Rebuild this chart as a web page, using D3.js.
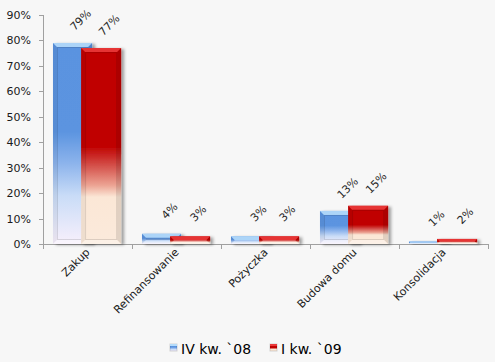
<!DOCTYPE html>
<html>
<head>
<meta charset="utf-8">
<script src="https://cdn.jsdelivr.net/npm/d3@7"></script>
<style>
  body { margin: 0; background: #f7f7f7; }
  svg { display: block; }
  text { font-family: "DejaVu Sans", Verdana, sans-serif; fill: #1a1a1a; }
</style>
</head>
<body>
<div id="chart"></div>
<script>
// chart data
const categories = ["Zakup", "Refinansowanie", "Pożyczka", "Budowa domu", "Konsolidacja"];
const seriesNames = ["IV kw. `08", "I kw. `09"];
const q4_08 = [79, 4, 3, 13, 1];
const q1_09 = [77, 3, 3, 15, 2];
const yTicks = [0, 10, 20, 30, 40, 50, 60, 70, 80, 90];

const width = 495, height = 362;
const plot = { left: 43, right: 488, top: 15, bottom: 244 };

const svg = d3.select("#chart").append("svg")
  .attr("width", width)
  .attr("height", height);

svg.append("rect").attr("width", width).attr("height", height).attr("fill", "#f7f7f7");

const defs = svg.append("defs");

// per-bar gradients
const blueGrad = defs.append("linearGradient").attr("id", "blueGrad")
  .attr("x1", 0).attr("y1", 0).attr("x2", 0).attr("y2", 1);
[[0, "#5a93e0"], [0.44, "#5b94e0"], [0.6, "#8db4ec"], [0.76, "#c9dcf7"], [1, "#f8f0fc"]]
  .forEach(s => blueGrad.append("stop").attr("offset", s[0]).attr("stop-color", s[1]));

const redGrad = defs.append("linearGradient").attr("id", "redGrad")
  .attr("x1", 0).attr("y1", 0).attr("x2", 0).attr("y2", 1);
[[0, "#c00000"], [0.5, "#c00000"], [0.6, "#d4504a"], [0.7, "#eca393"], [0.76, "#fbe7d6"], [1, "#fbeadb"]]
  .forEach(s => redGrad.append("stop").attr("offset", s[0]).attr("stop-color", s[1]));

const shadow = defs.append("filter").attr("id", "shadow")
  .attr("x", "-20%").attr("y", "-20%").attr("width", "150%").attr("height", "150%");
shadow.append("feDropShadow").attr("dx", 3).attr("dy", 1)
  .attr("stdDeviation", 1.5).attr("flood-color", "#000").attr("flood-opacity", 0.35);

// scales
const x = d3.scaleBand().domain(categories).range([plot.left, plot.right]).padding(0);
const y = d3.scaleLinear().domain([0, 90]).range([plot.bottom, plot.top]);
const bw = x.bandwidth();

const series = [
  { name: seriesNames[0], values: q4_08, fill: "url(#blueGrad)", top: "#b5dcfb", offset: 0.112, w: 0.44 },
  { name: seriesNames[1], values: q1_09, fill: "url(#redGrad)", top: "#ea3a3a", offset: 0.428, w: 0.45 }
];

// axes
const axisColor = "#a0a0a0";
const g = svg.append("g");

g.append("line")
  .attr("x1", plot.left + 0.5).attr("x2", plot.left + 0.5)
  .attr("y1", y(90)).attr("y2", plot.bottom)
  .attr("stroke", axisColor);

g.selectAll(".ytick").data(yTicks).enter().append("line")
  .attr("x1", plot.left - 4).attr("x2", plot.left)
  .attr("y1", d => Math.round(y(d)) + 0.5).attr("y2", d => Math.round(y(d)) + 0.5)
  .attr("stroke", axisColor);

g.selectAll(".ylabel").data(yTicks).enter().append("text")
  .attr("x", plot.left - 12)
  .attr("y", d => y(d) + 4)
  .attr("text-anchor", "end")
  .style("font-size", "11px")
  .text(d => d + "%");

g.append("line")
  .attr("x1", plot.left).attr("x2", plot.right)
  .attr("y1", plot.bottom + 0.5).attr("y2", plot.bottom + 0.5)
  .attr("stroke", axisColor);

const bounds = categories.map(c => x(c)).concat([plot.right]);
g.selectAll(".xtick").data(bounds).enter().append("line")
  .attr("x1", d => Math.round(d) + 0.5).attr("x2", d => Math.round(d) + 0.5)
  .attr("y1", plot.bottom).attr("y2", plot.bottom + 5)
  .attr("stroke", axisColor);

g.selectAll(".xlabel").data(categories).enter().append("text")
  .attr("transform", d => `translate(${x(d) + bw / 2 + 3},${plot.bottom + 9}) rotate(-45)`)
  .attr("text-anchor", "end")
  .style("font-size", "11px")
  .text(d => d);

// bars with bevel
function drawBar(parent, bx, by, w, h, s) {
  const b = Math.min(4, h / 2);
  const bar = parent.append("g");
  bar.append("rect")
    .attr("x", bx).attr("y", by).attr("width", w).attr("height", h)
    .attr("fill", s.fill)
    .attr("filter", "url(#shadow)");
  // top face
  bar.append("path")
    .attr("d", `M${bx},${by}L${bx + w},${by}L${bx + w - b},${by + b}L${bx + b},${by + b}Z`)
    .attr("fill", s.top).attr("opacity", 0.9);
  // left face
  bar.append("path")
    .attr("d", `M${bx},${by}L${bx + b},${by + b}L${bx + b},${by + h - b}L${bx},${by + h}Z`)
    .attr("fill", "#000").attr("opacity", 0.05);
  // right face
  bar.append("path")
    .attr("d", `M${bx + w},${by}L${bx + w},${by + h}L${bx + w - b},${by + h - b}L${bx + w - b},${by + b}Z`)
    .attr("fill", "#000").attr("opacity", 0.1);
  // bottom face
  bar.append("path")
    .attr("d", `M${bx},${by + h}L${bx + b},${by + h - b}L${bx + w - b},${by + h - b}L${bx + w},${by + h}Z`)
    .attr("fill", "#fff").attr("opacity", 0.35);
  if (h > 2 * b + 1) {
    bar.append("rect")
      .attr("x", bx + b + 0.5).attr("y", by + b + 0.5)
      .attr("width", w - 2 * b - 1).attr("height", h - 2 * b - 1)
      .attr("fill", "none").attr("stroke", "#000").attr("stroke-opacity", 0.12);
  }
}

const barsG = svg.append("g");
categories.forEach((c, i) => {
  series.forEach(s => {
    const v = s.values[i];
    const bx = x(c) + bw * s.offset;
    const w = bw * s.w;
    const by = y(v);
    drawBar(barsG, bx, by, w, plot.bottom - by, s);
  });
});

// value labels
const labelsG = svg.append("g");
categories.forEach((c, i) => {
  series.forEach(s => {
    const v = s.values[i];
    const cx = x(c) + bw * s.offset + bw * s.w / 2;
    labelsG.append("text")
      .attr("transform", `translate(${cx + 8},${y(v) - 23}) rotate(-45)`)
      .attr("text-anchor", "middle")
      .attr("dy", "0.35em")
      .style("font-size", "11px")
      .style("fill", "#262626")
      .text(v + "%");
  });
});

// legend
const legend = svg.append("g").attr("transform", "translate(170,343)");
const legendItems = [
  { s: series[0], dx: 0 },
  { s: series[1], dx: 100 }
];
legendItems.forEach(it => {
  const lg = legend.append("g").attr("transform", `translate(${it.dx},0)`);
  lg.append("rect").attr("x", 0).attr("y", 1).attr("width", 7).attr("height", 7)
    .attr("fill", it.s.fill).attr("stroke", "#000").attr("stroke-opacity", 0.15);
  lg.append("rect").attr("x", 0).attr("y", 1).attr("width", 7).attr("height", 2)
    .attr("fill", it.s.top);
  lg.append("text").attr("x", 11).attr("y", 11)
    .style("font-size", "14px")
    .style("fill", "#000")
    .text(it.s.name);
});
</script>
</body>
</html>
